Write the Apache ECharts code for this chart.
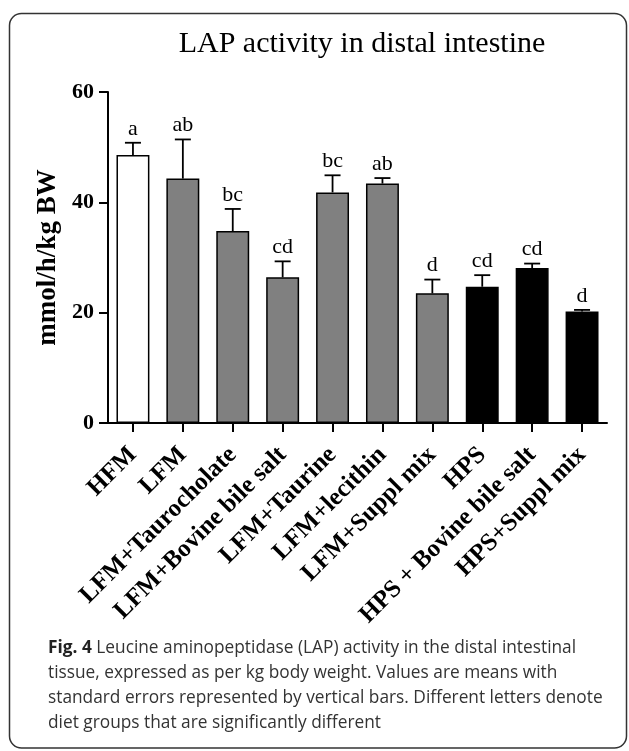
<!DOCTYPE html>
<html>
<head>
<meta charset="utf-8">
<script src="https://cdn.jsdelivr.net/npm/echarts@6/dist/echarts.min.js"></script>
<style>
html,body{margin:0;padding:0;background:#fff;}
#chart{width:629px;height:751px;}
</style>
</head>
<body>
<div id="chart"></div>
<script>
var categories = ['HFM', 'LFM', 'LFM+Taurocholate', 'LFM+Bovine bile salt', 'LFM+Taurine', 'LFM+lecithin', 'LFM+Suppl mix', 'HPS', 'HPS + Bovine bile salt', 'HPS+Suppl mix'];
var means = [48.6, 44.3, 34.8, 26.4, 41.8, 43.4, 23.5, 24.7, 28.1, 20.2];
var errors = [2.2, 7.1, 4.0, 2.9, 3.1, 1.0, 2.5, 2.1, 0.8, 0.3];
var letters = ['a', 'ab', 'bc', 'cd', 'bc', 'ab', 'd', 'cd', 'cd', 'd'];
var groups = ['HFM', 'LFM', 'LFM', 'LFM', 'LFM', 'LFM', 'LFM', 'HPS', 'HPS', 'HPS'];
var yTicks = [0, 20, 40, 60];
var titleText = 'LAP activity in distal intestine';
var yName = 'mmol/h/kg BW';
var captionLines = [
  '{b|Fig. 4} Leucine aminopeptidase (LAP) activity in the distal intestinal',
  'tissue, expressed as per kg body weight. Values are means with',
  'standard errors represented by vertical bars. Different letters denote',
  'diet groups that are significantly different'
];

var groupColors = {HFM: '#ffffff', LFM: '#808080', HPS: '#000000'};
var SERIF = '"Liberation Serif", "Times New Roman", serif';
var SANS = '"Open Sans", "Noto Sans", sans-serif';

var chart = echarts.init(document.getElementById('chart'), null, {renderer: 'canvas'});

var barData = means.map(function (v, i) {
  return {value: v, itemStyle: {color: groupColors[groups[i]], borderColor: '#000', borderWidth: 1.5}};
});
var errData = means.map(function (v, i) { return [i, v, errors[i]]; });

var option = {
  backgroundColor: '#fff',
  animation: false,
  title: {
    text: titleText,
    left: 357,
    top: 24,
    textAlign: 'center',
    textStyle: {fontFamily: SERIF, fontSize: 30, fontWeight: 'normal', color: '#000'}
  },
  grid: {left: 108, right: 22, top: 92, bottom: 328, containLabel: false, outerBoundsMode: 'none'},
  xAxis: {
    type: 'category',
    data: categories,
    axisLine: {show: true, lineStyle: {color: '#000', width: 2}},
    axisTick: {show: true, inside: false, alignWithLabel: true, length: 9, lineStyle: {color: '#000', width: 2}},
    axisLabel: {
      interval: 0, rotate: 45, margin: 28, hideOverlap: false,
      fontFamily: SERIF, fontWeight: 'bold', fontSize: 25, color: '#000'
    },
    splitLine: {show: false}
  },
  yAxis: {
    type: 'value',
    min: yTicks[0], max: yTicks[yTicks.length - 1], interval: 20,
    name: yName,
    nameLocation: 'middle',
    nameRotate: 90,
    nameGap: 44,
    nameTextStyle: {fontFamily: SERIF, fontWeight: 'bold', fontSize: 27, color: '#000'},
    axisLine: {show: true, lineStyle: {color: '#000', width: 2}},
    axisTick: {show: true, inside: false, length: 9, lineStyle: {color: '#000', width: 2}},
    axisLabel: {margin: 14, fontFamily: SERIF, fontWeight: 'bold', fontSize: 22, color: '#000'},
    splitLine: {show: false}
  },
  series: [
    {
      type: 'bar',
      data: barData,
      barWidth: '66%',
      z: 2
    },
    {
      type: 'custom',
      data: errData,
      z: 3,
      renderItem: function (params, api) {
        var x = api.value(0), m = api.value(1), e = api.value(2);
        var top = api.coord([x, m + e]);
        var base = api.coord([x, m]);
        var half = 8;
        return {
          type: 'group',
          children: [
            {type: 'line', shape: {x1: top[0], y1: base[1], x2: top[0], y2: top[1]}, style: {stroke: '#000', lineWidth: 1.8}},
            {type: 'line', shape: {x1: top[0] - half, y1: top[1], x2: top[0] + half, y2: top[1]}, style: {stroke: '#000', lineWidth: 1.8}},
            {type: 'text', style: {text: letters[params.dataIndex], x: top[0], y: top[1] - 3, align: 'center', verticalAlign: 'bottom', fontFamily: SERIF, fontSize: 22, fill: '#000'}}
          ]
        };
      }
    }
  ],
  graphic: [
    {
      type: 'rect',
      shape: {x: 9.5, y: 13.5, width: 617, height: 734.5, r: 12},
      style: {fill: 'none', stroke: '#333', lineWidth: 1.5},
      silent: true
    },
    {
      type: 'text',
      x: 48, y: 636,
      style: {
        text: captionLines.join('\n'),
        fontFamily: SANS,
        fontSize: 17.3,
        lineHeight: 25,
        fill: '#333',
        verticalAlign: 'top',
        rich: {
          b: {fontFamily: SANS, fontSize: 17.3, fontWeight: 'bold', fill: '#222', lineHeight: 25}
        }
      }
    }
  ]
};
chart.setOption(option);
</script>
</body>
</html>
